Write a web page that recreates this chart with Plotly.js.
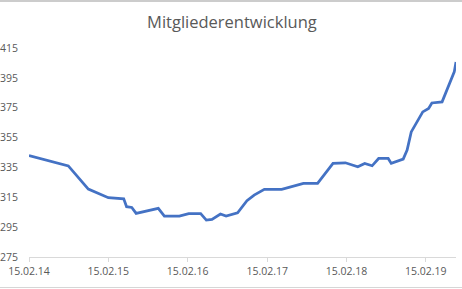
<!DOCTYPE html>
<html>
<head>
<meta charset="utf-8">
<script src="https://cdn.plot.ly/plotly-3.0.1.min.js"></script>
<style>
html,body{margin:0;padding:0;background:#fff;}
#wrap{position:relative;width:462px;height:289px;overflow:hidden;}
#chart{width:462px;height:289px;}
.edge{position:absolute;left:0;width:462px;background:#cccccc;pointer-events:none;z-index:1000;}
#edgeTop{top:0;height:2px;}
#edgeBottom{top:287px;height:1px;background:#d6d6d6;}
</style>
</head>
<body>
<div id="wrap">
<div id="chart"></div>
<div class="edge" id="edgeTop"></div>
<div class="edge" id="edgeBottom"></div>
</div>
<script>
const dates = [
  "2014-02-15","2014-08-15","2014-11-15","2015-02-15","2015-04-27","2015-05-10",
  "2015-06-03","2015-06-23","2015-10-03","2015-10-31","2016-01-08","2016-02-20",
  "2016-04-15","2016-05-11","2016-06-06","2016-07-15","2016-08-10","2016-10-02",
  "2016-11-14","2016-12-17","2017-02-02","2017-04-23","2017-08-01","2017-10-05",
  "2017-12-15","2018-02-10","2018-04-08","2018-05-10","2018-06-13","2018-07-13",
  "2018-08-26","2018-09-09","2018-11-03","2018-11-21","2018-12-10","2019-02-01",
  "2019-02-28","2019-03-15","2019-05-01","2019-06-03","2019-06-26","2019-07-04"
];
const members = [
  343, 336, 320.5, 314.7, 314, 308.7,
  308.2, 304.2, 307.6, 302.4, 302.4, 304,
  304, 299.7, 300.2, 303.8, 302.4, 304.6,
  312.7, 316.5, 320.3, 320.3, 324.3, 324.3,
  337.7, 338.1, 335.4, 337.7, 336.1, 341,
  341, 337.7, 340.6, 346.6, 358.8, 372.2,
  374.5, 378.2, 378.9, 390, 399, 405.6
];
const xTickVals = ["2014-02-15","2015-02-15","2016-02-15","2017-02-15","2018-02-15","2019-02-15"];
const xTickText = ["15.02.14","15.02.15","15.02.16","15.02.17","15.02.18","15.02.19"];
const yTickVals = [275,295,315,335,355,375,395,415];

const trace = {
  x: dates, y: members, type: "scatter", mode: "lines",
  line: {color: "#4472C4", width: 2.75, shape: "linear"},
  hoverinfo: "skip"
};

const layout = {
  width: 462, height: 289,
  margin: {l: 29, r: 6, t: 48, b: 32},
  paper_bgcolor: "#fff", plot_bgcolor: "#fff",
  showlegend: false,
  font: {family: "Open Sans, Noto Sans, sans-serif", color: "#595959", size: 10},
  title: {text: "Mitgliederentwicklung", x: 0.502, xanchor: "center", y: 0.922, yanchor: "middle",
          font: {size: 16.5, color: "#595959", family: "Open Sans, sans-serif"}},
  xaxis: {
    type: "date",
    range: ["2014-02-15", "2019-07-04"],
    tickvals: xTickVals, ticktext: xTickText,
    showgrid: false, zeroline: false,
    showline: true, linecolor: "#d9d9d9", linewidth: 1,
    ticks: "outside", ticklen: 4, tickcolor: "#d9d9d9", tickwidth: 1,
    tickfont: {size: 10.5, color: "#595959"},
    fixedrange: true
  },
  yaxis: {
    range: [275, 415],
    tickvals: yTickVals,
    showgrid: false, zeroline: false, showline: false,
    ticks: "", ticklabelstandoff: 10,
    tickfont: {size: 10.5, color: "#595959"},
    fixedrange: true
  }
};

Plotly.newPlot("chart", [trace], layout, {displayModeBar: false, staticPlot: true});
</script>
</body>
</html>
